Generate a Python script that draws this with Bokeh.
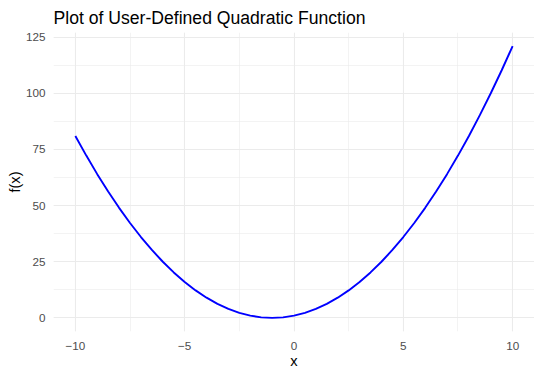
from bokeh.plotting import figure
from bokeh.models import SingleIntervalTicker, Range1d, Title
from bokeh.embed import file_html
from bokeh.resources import INLINE

x_vals = [-10, -9.5, -9, -8.5, -8, -7.5, -7, -6.5, -6, -5.5, -5, -4.5, -4, -3.5, -3, -2.5, -2, -1.5, -1,
          -0.5, 0, 0.5, 1, 1.5, 2, 2.5, 3, 3.5, 4, 4.5, 5, 5.5, 6, 6.5, 7, 7.5, 8, 8.5, 9, 9.5, 10]
y_vals = [81, 72.25, 64, 56.25, 49, 42.25, 36, 30.25, 25, 20.25, 16, 12.25, 9, 6.25, 4, 2.25, 1, 0.25, 0,
          0.25, 1, 2.25, 4, 6.25, 9, 12.25, 16, 20.25, 25, 30.25, 36, 42.25, 49, 56.25, 64, 72.25, 81, 90.25, 100, 110.25, 121]

FONT = "Liberation Sans"

p = figure(output_backend="svg", toolbar_location=None,
           x_range=Range1d(-11, 11), y_range=Range1d(-6.05, 127.05),
           frame_width=481, frame_height=299,
           min_border_left=40, min_border_right=0, min_border_top=20, min_border_bottom=30)
p.margin = (0, 0, 0, 3)
p.title = None
t = Title(text="Plot of User-Defined Quadratic Function", text_font=FONT,
          text_font_size="17.6px", text_font_style="normal", text_color="black",
          align="left", standoff=10, offset=0)
p.add_layout(t, "above")

p.line(x_vals, y_vals, line_color="blue", line_width=1.9)

p.xaxis.ticker = SingleIntervalTicker(interval=5, num_minor_ticks=2)
p.yaxis.ticker = SingleIntervalTicker(interval=25, num_minor_ticks=2)
p.xaxis.axis_label = "x"
p.yaxis.axis_label = "f(x)"

for ax in (p.xaxis, p.yaxis):
    ax.axis_line_color = None
    ax.major_tick_line_color = None
    ax.minor_tick_line_color = None
    ax.major_tick_in = 0
    ax.major_tick_out = 0
    ax.minor_tick_in = 0
    ax.minor_tick_out = 0
    ax.major_label_text_font = FONT
    ax.major_label_text_font_size = "11.7px"
    ax.major_label_text_color = "#4d4d4d"
    ax.axis_label_text_font = FONT
    ax.axis_label_text_font_size = "14.7px"
    ax.axis_label_text_font_style = "normal"
    ax.axis_label_text_color = "black"

p.xaxis.major_label_standoff = 10
p.xaxis.axis_label_standoff = 0
p.yaxis.major_label_standoff = 8
p.yaxis.axis_label_standoff = 0

p.grid.grid_line_color = "#ebebeb"
p.grid.grid_line_width = 1.1
p.grid.minor_grid_line_color = "#ebebeb"
p.grid.minor_grid_line_width = 0.6
p.outline_line_color = None
p.background_fill_color = "white"
p.border_fill_color = "white"

open("out.html", "w").write(file_html(p, INLINE))
